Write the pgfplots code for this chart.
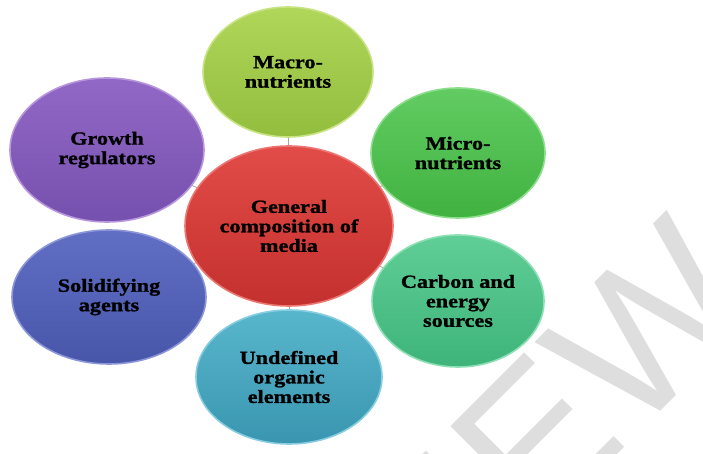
\documentclass[border=0pt]{standalone}
\usepackage{pgfplots}
\pgfplotsset{compat=1.18}
\usepackage{fontspec}
\usetikzlibrary{shapes.geometric}
\newfontfamily\lab{Liberation Serif}[FakeStretch=1.2, BoldFeatures={FakeBold=1.2}]
\newfontfamily\wm{Liberation Sans}
\definecolor{maT}{RGB}{176,214,90}\definecolor{maB}{RGB}{146,190,62}\definecolor{maD}{RGB}{200,228,130}
\definecolor{miT}{RGB}{98,204,98}\definecolor{miB}{RGB}{64,178,64}\definecolor{miD}{RGB}{140,222,140}
\definecolor{caT}{RGB}{96,206,150}\definecolor{caB}{RGB}{62,180,122}\definecolor{caD}{RGB}{140,224,180}
\definecolor{unT}{RGB}{88,182,204}\definecolor{unB}{RGB}{58,150,176}\definecolor{unD}{RGB}{136,206,224}
\definecolor{soT}{RGB}{96,110,196}\definecolor{soB}{RGB}{72,86,170}\definecolor{soD}{RGB}{140,150,216}
\definecolor{grT}{RGB}{146,104,198}\definecolor{grB}{RGB}{118,80,174}\definecolor{grD}{RGB}{184,150,222}
\definecolor{ceT}{RGB}{226,76,72}\definecolor{ceB}{RGB}{196,48,46}\definecolor{ceD}{RGB}{236,120,116}
\pgfplotsset{
  bubble/.style n args={5}{only marks, mark=*, mark size=0pt,
    mark options={draw=none,fill=none},
    nodes near coords, point meta=explicit symbolic,
    every node near coord/.style={ellipse, anchor=center, inner sep=0pt,
      minimum width=#1pt, minimum height=#2pt,
      top color=#3, bottom color=#4, draw=#5, line width=1.6pt,
      text=black, align=center,
      font={\lab\fontsize{18.5}{19.5}\selectfont\bfseries}}},
}
\begin{document}
\begin{tikzpicture}
\begin{axis}[x=1pt, y=1pt, xmin=0, xmax=703, ymin=0, ymax=454,
  hide axis, clip=false]
% watermark
\begin{scope}
\clip (axis cs:0,0) rectangle (axis cs:703,454);
\node[overlay, rotate=45, anchor=base east, text=black!13,
  font={\wm\fontsize{200}{200}\selectfont}] at (axis cs:767,149) {PREVIEW};
\end{scope}
% connectors
\addplot[gray!70, line width=0.8pt] coordinates {(289,228) (288,382)};
\addplot[gray!70, line width=0.8pt] coordinates {(289,228) (458,301)};
\addplot[gray!70, line width=0.8pt] coordinates {(289,228) (458,153)};
\addplot[gray!70, line width=0.8pt] coordinates {(289,228) (289,77)};
\addplot[gray!70, line width=0.8pt] coordinates {(289,228) (109,157)};
\addplot[gray!70, line width=0.8pt] coordinates {(289,228) (107,304)};
% outer ellipses
\addplot[bubble={170}{130}{maT}{maB}{maD}]
  coordinates {(288,382) [{Macro-\\nutrients}]};
\addplot[bubble={174}{130}{miT}{miB}{miD}]
  coordinates {(458,301) [{Micro-\\nutrients}]};
\addplot[bubble={172}{132}{caT}{caB}{caD}]
  coordinates {(458,153) [{Carbon and\\energy\\sources}]};
\addplot[bubble={186}{134}{unT}{unB}{unD}]
  coordinates {(289,77) [{Undefined\\organic\\elements}]};
\addplot[bubble={194}{134}{soT}{soB}{soD}]
  coordinates {(109,157) [{Solidifying\\agents}]};
\addplot[bubble={194}{144}{grT}{grB}{grD}]
  coordinates {(107,304) [{Growth\\regulators}]};
% centre
\addplot[bubble={208}{160}{ceT}{ceB}{ceD}]
  coordinates {(289,228) [{General\\composition of\\media}]};
\end{axis}
\end{tikzpicture}
\end{document}
